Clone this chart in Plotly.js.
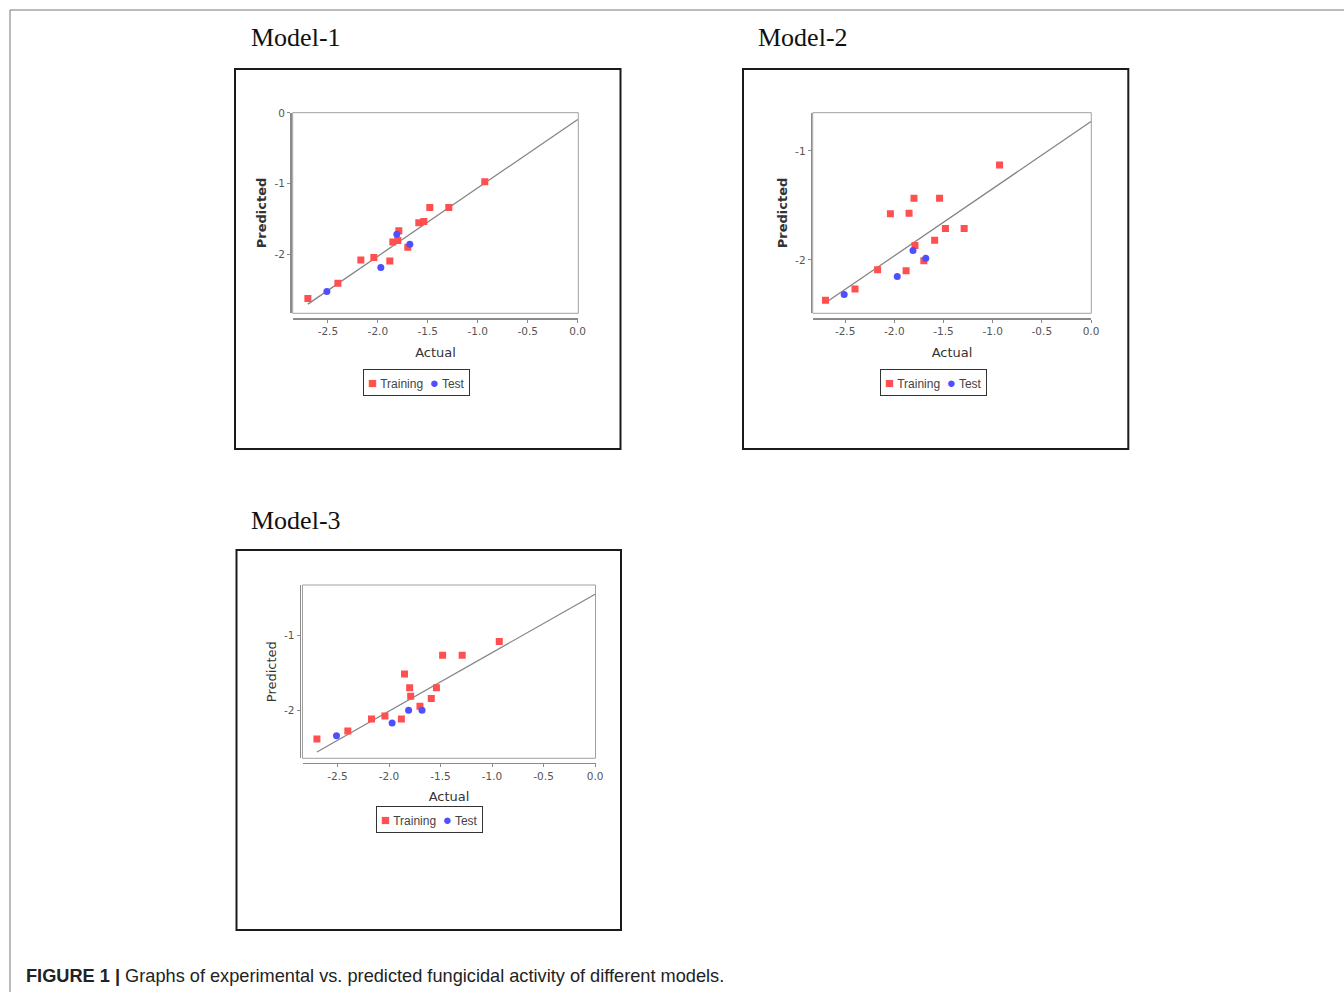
<!DOCTYPE html>
<html>
<head>
<meta charset="utf-8">
<script src="https://cdn.plot.ly/plotly-3.0.1.min.js"></script>
<style>
html,body{margin:0;padding:0;background:#fff;}
#chart{width:1344px;height:992px;}
</style>
</head>
<body>
<div id="chart"></div>
<script>
// ---------------- DATA ----------------
const modelNames = ["Model-1", "Model-2", "Model-3"];
const seriesNames = ["Training", "Test"];
const xTickVals = [-2.5, -2.0, -1.5, -1.0, -0.5, 0.0];
const xTickText = ["-2.5", "-2.0", "-1.5", "-1.0", "-0.5", "0.0"];
const yTickVals = [0, -1, -2];
const yTickText = ["0", "-1", "-2"];

const trainActual = [-2.70, -2.40, -2.17, -2.04, -1.88, -1.85, -1.80, -1.79, -1.70, -1.59, -1.54, -1.48, -1.29, -0.93];
const testActual = [-2.51, -1.97, -1.81, -1.68];

const model1TrainPred = [-2.63, -2.415, -2.085, -2.05, -2.10, -1.83, -1.81, -1.67, -1.905, -1.557, -1.54, -1.34, -1.34, -0.976];
const model1TestPred = [-2.53, -2.19, -1.72, -1.86];
const model2TrainPred = [-2.37, -2.266, -2.09, -1.578, -2.10, -1.572, -1.434, -1.869, -2.009, -1.82, -1.434, -1.713, -1.713, -1.13];
const model2TestPred = [-2.318, -2.153, -1.914, -1.985];
const model3TrainPred = [-2.382, -2.276, -2.116, -2.076, -2.116, -1.516, -1.698, -1.813, -1.947, -1.844, -1.698, -1.267, -1.267, -1.084];
const model3TestPred = [-2.338, -2.169, -2.0, -2.0];

const fitActual = [-2.70, 0.0];
const model1Fit = [-2.71, -0.094];
const model2Fit = [-2.394, -0.731];
const model3Fit = [-2.556, -0.453];

const captionBold = "FIGURE 1 |";
const captionText = "Graphs of experimental vs. predicted fungicidal activity of different models.";

// ---------------- STYLE ----------------
const trainColor = "#ff4f4f";
const testColor = "#4f4fff";

// ---------------- LAYOUT HELPERS ----------------
const W = 1344, H = 992;
const fx = p => p / W;
const fy = p => 1 - p / H;

const trainPreds = [model1TrainPred, model2TrainPred, model3TrainPred];
const testPreds = [model1TestPred, model2TestPred, model3TestPred];
const fits = [model1Fit, model2Fit, model3Fit];

// per panel geometry (pixels)
const panels = [
  {box:[235,69,620.5,449], title:[249,37], plotX:[292.7,578.3], plotY:[112.7,313.3], yLine:290, xLine:318.3,
   xRange:[-2.852,0.006], yRange:[-2.84,0.002], legend:[416.5,382.5], yBold:true},
  {box:[743,69,1128.3,449], title:[755.5,37], plotX:[812.7,1091.3], plotY:[112.7,313.3], yLine:810.7, xLine:318.3,
   xRange:[-2.83,0.003], yRange:[-2.49,-0.65], legend:[933,382.5], yBold:true},
  {box:[236.5,550,621,930], title:[248.5,520], plotX:[302.5,595.5], plotY:[585,758.3], yLine:299.5, xLine:762.7,
   xRange:[-2.84,0.004], yRange:[-2.64,-0.33], legend:[429.5,819.5], yBold:false}
];

const traces = [];
const layout = {
  width: W, height: H,
  margin: {l:0, r:0, t:0, b:0},
  paper_bgcolor: "#ffffff",
  plot_bgcolor: "#ffffff",
  showlegend: false,
  shapes: [],
  annotations: []
};

// outer figure frame (top and left edges)
layout.shapes.push({type:"line", xref:"paper", yref:"paper", x0:fx(10), x1:fx(W), y0:fy(10), y1:fy(10), line:{color:"#777", width:1}});
layout.shapes.push({type:"line", xref:"paper", yref:"paper", x0:fx(10), x1:fx(10), y0:fy(10), y1:0, line:{color:"#777", width:1}});

const tickFont = {family: "DejaVu Sans, Verdana, sans-serif", size: 10.5, color: "#555"};
const titleFont = {family: "DejaVu Sans, Verdana, sans-serif", size: 13, color: "#333"};

panels.forEach((p, i) => {
  const n = i + 1;
  const xa = n === 1 ? "x" : "x" + n;
  const ya = n === 1 ? "y" : "y" + n;
  const xKey = n === 1 ? "xaxis" : "xaxis" + n;
  const yKey = n === 1 ? "yaxis" : "yaxis" + n;

  traces.push({
    x: fitActual, y: fits[i], xaxis: xa, yaxis: ya,
    mode: "lines", line: {color: "#858585", width: 1.3},
    showlegend: false, hoverinfo: "skip"
  });
  traces.push({
    x: trainActual, y: trainPreds[i], xaxis: xa, yaxis: ya,
    mode: "markers", name: seriesNames[0],
    marker: {symbol: "square", size: 7, color: trainColor}
  });
  traces.push({
    x: testActual, y: testPreds[i], xaxis: xa, yaxis: ya,
    mode: "markers", name: seriesNames[1],
    marker: {symbol: "circle", size: 7, color: testColor}
  });

  layout[xKey] = {
    domain: [fx(p.plotX[0]), fx(p.plotX[1])],
    range: p.xRange,
    anchor: "free", position: fy(p.xLine),
    tickvals: xTickVals, ticktext: xTickText,
    showline: true, linecolor: "#8a8a8a", linewidth: 1.5,
    ticks: "outside", ticklen: 3, tickcolor: "#8a8a8a", tickwidth: 1,
    showgrid: false, zeroline: false,
    tickfont: tickFont,
    title: {text: "Actual", font: titleFont, standoff: 11},
    fixedrange: true
  };
  layout[yKey] = {
    domain: [fy(p.plotY[1]), fy(p.plotY[0])],
    range: p.yRange,
    anchor: "free", position: fx(p.yLine),
    tickvals: yTickVals, ticktext: yTickText,
    showline: true, linecolor: "#8a8a8a", linewidth: 1.5,
    ticks: "outside", ticklen: 3, tickcolor: "#8a8a8a", tickwidth: 1,
    showgrid: false, zeroline: false,
    tickfont: tickFont,
    title: {text: p.yBold ? "<b>Predicted</b>" : "Predicted", font: titleFont, standoff: 3},
    fixedrange: true
  };

  // panel box
  layout.shapes.push({type:"rect", xref:"paper", yref:"paper",
    x0:fx(p.box[0]), x1:fx(p.box[2]), y0:fy(p.box[3]), y1:fy(p.box[1]),
    line:{color:"#1a1a1a", width:2}});
  // plot area frame
  layout.shapes.push({type:"rect", xref: xa + " domain", yref: ya + " domain",
    x0:0, x1:1, y0:0, y1:1, layer:"below",
    line:{color:"#a0a0a0", width:1}});

  // panel title
  layout.annotations.push({text: modelNames[i], xref:"paper", yref:"paper",
    x: fx(p.title[0]), y: fy(p.title[1]), xanchor:"left", yanchor:"middle", showarrow:false,
    font:{family:"Liberation Serif, Times New Roman, serif", size:26, color:"#111"}});

  // legend box
  layout.annotations.push({
    text: '<span style="color:' + trainColor + ';font-size:15px">■</span> ' + seriesNames[0] +
          '  <span style="color:' + testColor + ';font-size:15px">●</span> ' + seriesNames[1],
    xref:"paper", yref:"paper", x: fx(p.legend[0]), y: fy(p.legend[1]),
    xanchor:"center", yanchor:"middle", showarrow:false,
    bgcolor:"#ffffff", bordercolor:"#333", borderwidth:1, borderpad:4,
    font:{family:"Liberation Sans, Arial, sans-serif", size:12, color:"#444"}
  });
});

layout.annotations.push({text: "<b>" + captionBold + "</b> " + captionText, xref:"paper", yref:"paper",
  x: fx(24), y: fy(976), xanchor:"left", yanchor:"middle", showarrow:false,
  font:{family:"Liberation Sans, Arial, sans-serif", size:18.2, color:"#222"}});

Plotly.newPlot("chart", traces, layout, {displayModeBar:false, staticPlot:true});
</script>
</body>
</html>
